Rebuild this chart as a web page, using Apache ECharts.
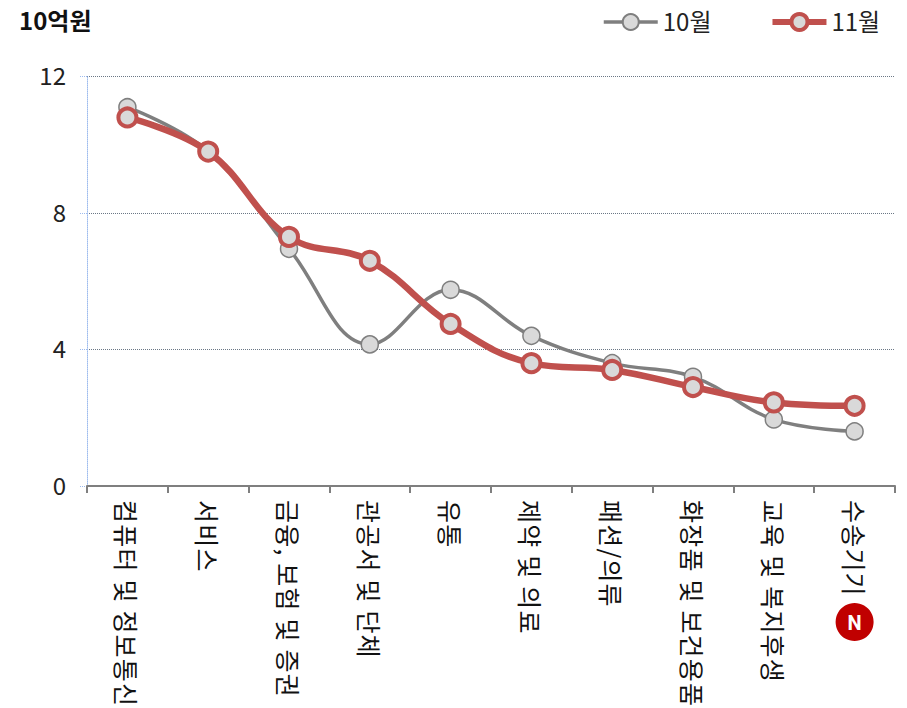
<!DOCTYPE html>
<html><head><meta charset="utf-8">
<style>html,body{margin:0;padding:0;background:#fff}#c{width:907px;height:708px}
#c text[style*="25px"]{letter-spacing:1.2px}
#c text[style*="24px"]{translate:0 -2px}</style>
<script src="https://cdn.jsdelivr.net/npm/echarts@6/dist/echarts.min.js"></script>
</head><body><div id="c"></div>
<script>
const categories = ['컴퓨터 및 정보통신','서비스','금융, 보험 및 증권','관공서 및 단체','유통','제약 및 의료','패션/의류','화장품 및 보건용품','교육 및 복지후생','수송기기'];
const oct = [11.1,9.8,6.95,4.15,5.75,4.4,3.6,3.2,1.95,1.6];
const nov = [10.8,9.8,7.3,6.6,4.75,3.6,3.4,2.9,2.45,2.35];
const yTicks = [0,4,8,12];
const unitLabel = '10억원';
const seriesNames = ['10월','11월'];
const badgeText = 'N';
const font = '"Noto Sans CJK KR","Noto Sans",sans-serif';
const chart = echarts.init(document.getElementById('c'), null, {renderer:'svg'});
chart.setOption({
  animation:false,
  backgroundColor:'#fff',
  title:{text:unitLabel,left:14,top:4,textStyle:{fontFamily:font,fontSize:24,fontWeight:'bold',color:'#111'}},
  legend:{left:597,top:5,itemWidth:54,itemHeight:20,itemGap:58,
    textStyle:{fontFamily:font,fontSize:24,color:'#222'},
    data:[{name:seriesNames[0],lineStyle:{width:3.5}},
          {name:seriesNames[1],lineStyle:{width:6},itemStyle:{borderWidth:4}}]},
  grid:{left:87,right:12,top:76.5,bottom:222},
  xAxis:{type:'category',data:categories,boundaryGap:true,
    axisLine:{lineStyle:{color:'#7f7f7f',width:2}},
    axisTick:{show:true,alignWithLabel:false,length:7,lineStyle:{color:'#7f7f7f',width:2}},
    axisLabel:{interval:0,rotate:-90,margin:14,fontFamily:font,fontSize:25,color:'#111',hideOverlap:false}},
  yAxis:{type:'value',min:0,max:12,interval:4,
    axisLine:{show:true,lineStyle:{color:'#9dbbee',type:'dotted',width:1}},
    axisTick:{show:true,length:7,lineStyle:{color:'#9dbbee',type:'dotted',width:1}},
    axisLabel:{margin:21,fontFamily:font,fontSize:24,color:'#222',
      formatter:v=>yTicks.includes(v)?String(v):''},
    splitLine:{show:true,lineStyle:{color:'#6b7785',type:'dotted',width:1}}},
  series:[
    {name:seriesNames[0],type:'line',data:oct,smooth:0.4,symbol:'circle',symbolSize:17,z:2,
      lineStyle:{color:'#7f7f7f',width:3.5},
      itemStyle:{color:'#d9d9d9',borderColor:'#7f7f7f',borderWidth:1.5}},
    {name:seriesNames[1],type:'line',data:nov,smooth:0.4,symbol:'circle',symbolSize:18,z:3,
      lineStyle:{color:'#c0504d',width:6.5},
      itemStyle:{color:'#d9d9d9',borderColor:'#c0504d',borderWidth:4}}
  ]
});
const bx = chart.convertToPixel({xAxisIndex:0},categories[9]);
chart.setOption({graphic:[
  {type:'circle',shape:{cx:bx,cy:622,r:19},style:{fill:'#c00000'},z:10},
  {type:'text',x:bx,y:623,style:{text:badgeText,fill:'#fff',font:'bold 20px Roboto,sans-serif',align:'center',verticalAlign:'middle'},z:11}
]});
</script></body></html>
